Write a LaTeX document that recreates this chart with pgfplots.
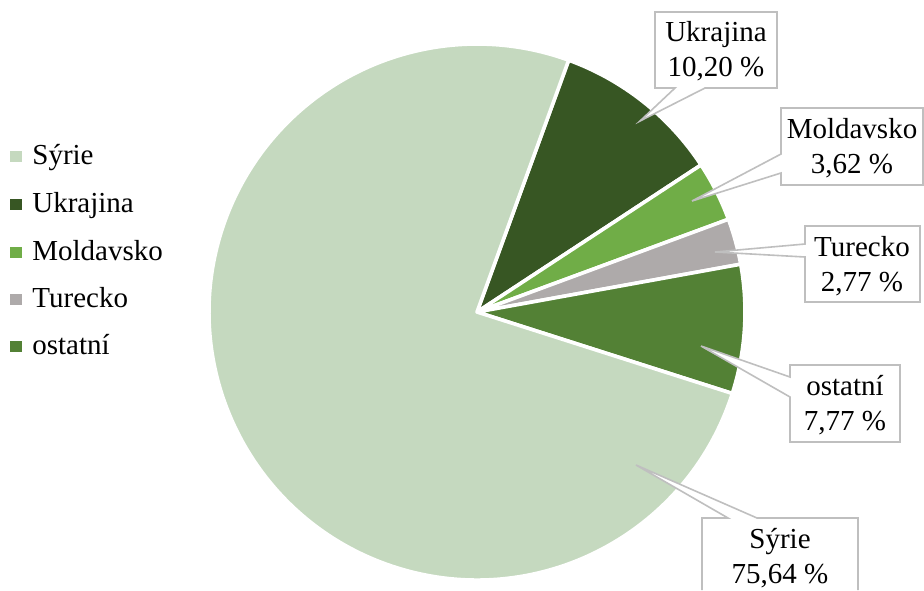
\documentclass[border=0pt]{standalone}
\usepackage{fontspec}
\setmainfont{Liberation Serif}
\usepackage{pgfplots}
\pgfplotsset{compat=1.18}

\definecolor{syrie}{HTML}{C5D9BF}
\definecolor{ukrajina}{HTML}{375623}
\definecolor{moldavsko}{HTML}{70AD47}
\definecolor{turecko}{HTML}{AEAAAA}
\definecolor{ostatni}{HTML}{538135}
\definecolor{callgray}{HTML}{BFBFBF}

\newcommand{\lbl}{\fontsize{14.5}{17.5}\selectfont}
% slice: start angle, share in %, colour
\newcommand{\slice}[3]{%
  \fill[#3, draw=white, line width=1.8pt, line join=round]
    (axis cs:477,312) -- ++(#1:134pt)
    arc[start angle=#1, delta angle={-3.6*#2}, radius=134pt] -- cycle;}

\begin{document}
\begin{tikzpicture}
\begin{axis}[
    width=462pt, height=295pt, scale only axis,
    xmin=0, xmax=924, ymin=0, ymax=590,
    y dir=reverse,
    hide axis,
]
% pie, clockwise from the Sýrie/Ukrajina edge
\slice{70}{10.20}{ukrajina}
\slice{33.28}{3.62}{moldavsko}
\slice{20.248}{2.77}{turecko}
\slice{10.276}{7.77}{ostatni}
\slice{-17.696}{75.64}{syrie}

% callouts
\filldraw[fill=white, draw=callgray, line width=0.8pt]
  (axis cs:655,12) -- (axis cs:777,12) -- (axis cs:777,88) -- (axis cs:705,88)
  -- (axis cs:640,121) -- (axis cs:675,88) -- (axis cs:655,88) -- cycle;
\node[align=center, font=\lbl, inner sep=0pt] at (axis cs:716,51) {Ukrajina\\10,20 \%};

\filldraw[fill=white, draw=callgray, line width=0.8pt]
  (axis cs:781,108) -- (axis cs:923,108) -- (axis cs:923,185) -- (axis cs:781,185)
  -- (axis cs:781,173) -- (axis cs:692,201) -- (axis cs:781,154) -- cycle;
\node[align=center, font=\lbl, inner sep=0pt] at (axis cs:852,148) {Moldavsko\\3,62 \%};

\filldraw[fill=white, draw=callgray, line width=0.8pt]
  (axis cs:805,226) -- (axis cs:920,226) -- (axis cs:920,302) -- (axis cs:805,302)
  -- (axis cs:805,257) -- (axis cs:715,252) -- (axis cs:805,244) -- cycle;
\node[align=center, font=\lbl, inner sep=0pt] at (axis cs:862,266) {Turecko\\2,77 \%};

\filldraw[fill=white, draw=callgray, line width=0.8pt]
  (axis cs:790,365) -- (axis cs:900,365) -- (axis cs:900,442) -- (axis cs:790,442)
  -- (axis cs:790,397) -- (axis cs:701,346) -- (axis cs:790,377) -- cycle;
\node[align=center, font=\lbl, inner sep=0pt] at (axis cs:845,405) {ostatní\\7,77 \%};

\fill[white] (axis cs:702,518) -- (axis cs:728,518) -- (axis cs:636,465) -- (axis cs:757,518)
  -- (axis cs:858,518) -- (axis cs:858,590) -- (axis cs:702,590) -- cycle;
\draw[callgray, line width=0.8pt] (axis cs:702,590) -- (axis cs:702,518) -- (axis cs:728,518)
  -- (axis cs:636,465) -- (axis cs:757,518) -- (axis cs:858,518) -- (axis cs:858,590);
\node[align=center, font=\lbl, inner sep=0pt] at (axis cs:780,558) {Sýrie\\75,64 \%};

% legend
\fill[syrie] (axis cs:10,151) rectangle (axis cs:22,162);
\node[anchor=base west, font=\lbl, inner sep=0pt] at (axis cs:32,164) {Sýrie};
\fill[ukrajina] (axis cs:10,199) rectangle (axis cs:22,210);
\node[anchor=base west, font=\lbl, inner sep=0pt] at (axis cs:32,212) {Ukrajina};
\fill[moldavsko] (axis cs:10,247) rectangle (axis cs:22,258);
\node[anchor=base west, font=\lbl, inner sep=0pt] at (axis cs:32,260) {Moldavsko};
\fill[turecko] (axis cs:10,294) rectangle (axis cs:22,305);
\node[anchor=base west, font=\lbl, inner sep=0pt] at (axis cs:32,307) {Turecko};
\fill[ostatni] (axis cs:10,341) rectangle (axis cs:22,352);
\node[anchor=base west, font=\lbl, inner sep=0pt] at (axis cs:32,354) {ostatní};
\end{axis}
\pgfresetboundingbox
\useasboundingbox (current axis.south west) rectangle (current axis.north east);
\end{tikzpicture}
\end{document}
